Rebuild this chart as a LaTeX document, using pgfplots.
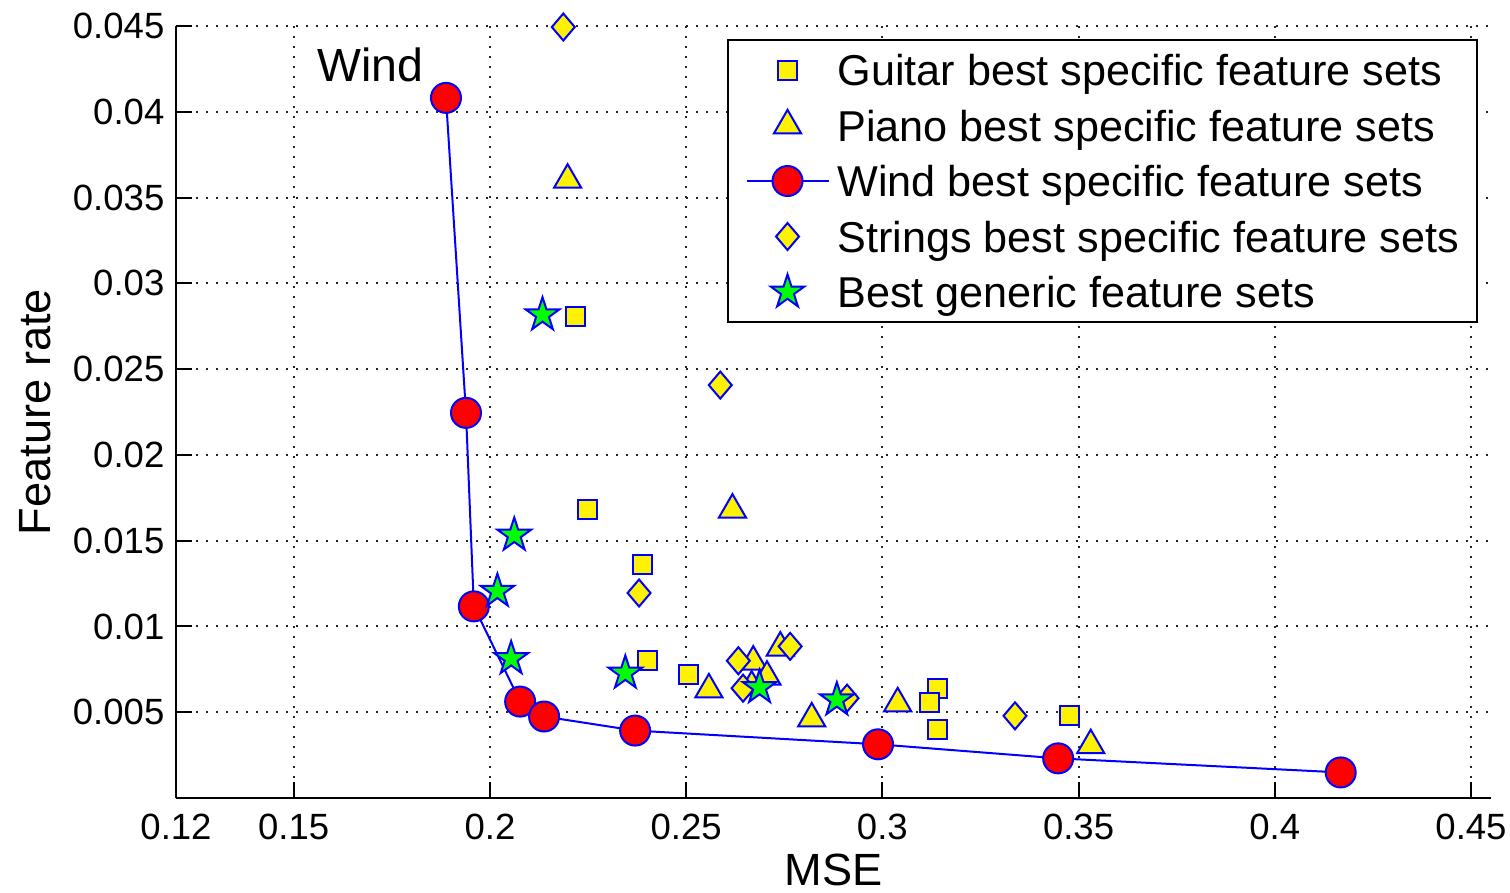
\documentclass[border=0pt]{standalone}
\usepackage{fontspec}
\setmainfont{Liberation Sans}
\usepackage{pgfplots}
\pgfplotsset{compat=1.18}

\pgfdeclareplotmark{fstar}{%
  \pgfpathmoveto{\pgfqpointpolar{90}{\pgfplotmarksize}}%
  \pgfpathlineto{\pgfqpointpolar{126}{0.382\pgfplotmarksize}}%
  \pgfpathlineto{\pgfqpointpolar{162}{\pgfplotmarksize}}%
  \pgfpathlineto{\pgfqpointpolar{198}{0.382\pgfplotmarksize}}%
  \pgfpathlineto{\pgfqpointpolar{234}{\pgfplotmarksize}}%
  \pgfpathlineto{\pgfqpointpolar{270}{0.382\pgfplotmarksize}}%
  \pgfpathlineto{\pgfqpointpolar{306}{\pgfplotmarksize}}%
  \pgfpathlineto{\pgfqpointpolar{342}{0.382\pgfplotmarksize}}%
  \pgfpathlineto{\pgfqpointpolar{18}{\pgfplotmarksize}}%
  \pgfpathlineto{\pgfqpointpolar{54}{0.382\pgfplotmarksize}}%
  \pgfpathclose
  \pgfusepathqfillstroke
}
\pgfdeclareplotmark{mdiamond}{%
  \pgfpathmoveto{\pgfqpoint{0pt}{\pgfplotmarksize}}%
  \pgfpathlineto{\pgfqpoint{0.85\pgfplotmarksize}{0pt}}%
  \pgfpathlineto{\pgfqpoint{0pt}{-\pgfplotmarksize}}%
  \pgfpathlineto{\pgfqpoint{-0.85\pgfplotmarksize}{0pt}}%
  \pgfpathclose
  \pgfusepathqfillstroke
}

\begin{document}
\begin{tikzpicture}
\begin{axis}[
  scale only axis, width=394.5bp, height=231.6bp,
  xmin=0.12, xmax=0.4551, ymin=0, ymax=0.045,
  scaled x ticks=false, scaled y ticks=false,
  axis lines=left,
  axis line style={-, line width=0.6bp, black},
  xtick={0.12,0.15,0.2,0.25,0.3,0.35,0.4,0.45},
  xticklabels={0.12,0.15,0.2,0.25,0.3,0.35,0.4,0.45},
  ytick={0.005,0.01,0.015,0.02,0.025,0.03,0.035,0.04,0.045},
  yticklabels={0.005,0.01,0.015,0.02,0.025,0.03,0.035,0.04,0.045},
  tick align=inside, major tick length=4.8bp,
  tick style={black, line width=0.6bp},
  grid=major,
  grid style={black!85, line width=0.6bp, dash pattern=on 0.6bp off 2.4bp},
  ticklabel style={font=\fontsize{11}{13}\selectfont, inner sep=0pt},
  xticklabel shift=4.5bp, yticklabel shift=3.3bp,
  xlabel={MSE}, ylabel={Feature rate},
  every axis x label/.style={at={(axis description cs:0.5,0)}, yshift=-21.6bp, anchor=center, font=\fontsize{13.6}{16}\selectfont},
  every axis y label/.style={at={(axis description cs:0,0.5)}, xshift=-42.3bp, rotate=90, anchor=center, font=\fontsize{13.6}{16}\selectfont},
  clip=false,
  legend cell align=left,
  legend style={at={(1,1)}, anchor=north east, xshift=-3.9bp, yshift=-3.9bp,
    draw=black, line width=0.6bp, inner xsep=5.4bp, inner ysep=3.5bp,
    font=\fontsize{13}{15}\selectfont, row sep=5.65bp, column sep=0bp,
    nodes={inner sep=0pt, text depth=0pt}},
  legend image code/.code={%
    \path[draw=none, fill=none] (0bp,-5.5bp) rectangle (27.3bp,5.5bp);
    \draw[mark repeat=2,mark phase=2,#1] plot coordinates {(0bp,0bp) (12.3bp,0bp) (24.6bp,0bp)};},
]
% Guitar
\addplot[only marks, mark=square*, mark size=2.85bp, line width=0.6bp,
  mark options={draw=blue, fill=yellow}] coordinates {
  (0.2217,0.02807) (0.2248,0.01684) (0.2390,0.01361) (0.2401,0.00804)
  (0.2507,0.00722) (0.3140,0.00640) (0.3121,0.00558) (0.3140,0.00397)
  (0.3478,0.00479)};
\addlegendentry{Guitar best specific feature sets}
% Piano
\addplot[only marks, mark=triangle*, mark size=4.7bp, line width=0.6bp,
  mark options={draw=blue, fill=yellow}] coordinates {
  (0.2198,0.03603) (0.2618,0.01680) (0.2558,0.00632) (0.2740,0.00876)
  (0.2671,0.00794) (0.2706,0.00706) (0.2667,0.00648) (0.2820,0.00463)
  (0.3039,0.00551) (0.3531,0.00307)};
\addlegendentry{Piano best specific feature sets}
% Wind
\addplot[blue, line width=0.6bp, mark=*, mark size=4.5bp,
  mark options={draw=blue, fill=red, solid}] coordinates {
  (0.1888,0.04081) (0.1939,0.02245) (0.1959,0.01117) (0.2077,0.00562)
  (0.2138,0.00475) (0.2370,0.00393) (0.2989,0.00313) (0.3448,0.00231)
  (0.4168,0.00149)};
\addlegendentry{Wind best specific feature sets}
% Strings
\addplot[only marks, mark=mdiamond, mark size=4.05bp, line width=0.6bp,
  mark options={draw=blue, fill=yellow}] coordinates {
  (0.2187,0.04494) (0.2587,0.02407) (0.2380,0.01195) (0.2633,0.00800)
  (0.2765,0.00884) (0.2645,0.00640) (0.2910,0.00582) (0.3338,0.00479)};
\addlegendentry{Strings best specific feature sets}
% Generic
\addplot[only marks, mark=fstar, mark size=5.3bp, line width=0.6bp,
  mark options={draw=blue, fill=green}] coordinates {
  (0.2134,0.02816) (0.2062,0.01532) (0.2019,0.01205) (0.2054,0.00812)
  (0.2345,0.00728) (0.2687,0.00644) (0.2884,0.00572)};
\addlegendentry{Best generic feature sets}

\node[font=\fontsize{14}{16}\selectfont, inner sep=0pt] at (axis cs:0.1696,0.04273) {Wind};
\end{axis}
\pgfresetboundingbox
\path[use as bounding box] (-52.8bp,-28.5bp) rectangle (400.2bp,239.4bp);
\end{tikzpicture}
\end{document}
